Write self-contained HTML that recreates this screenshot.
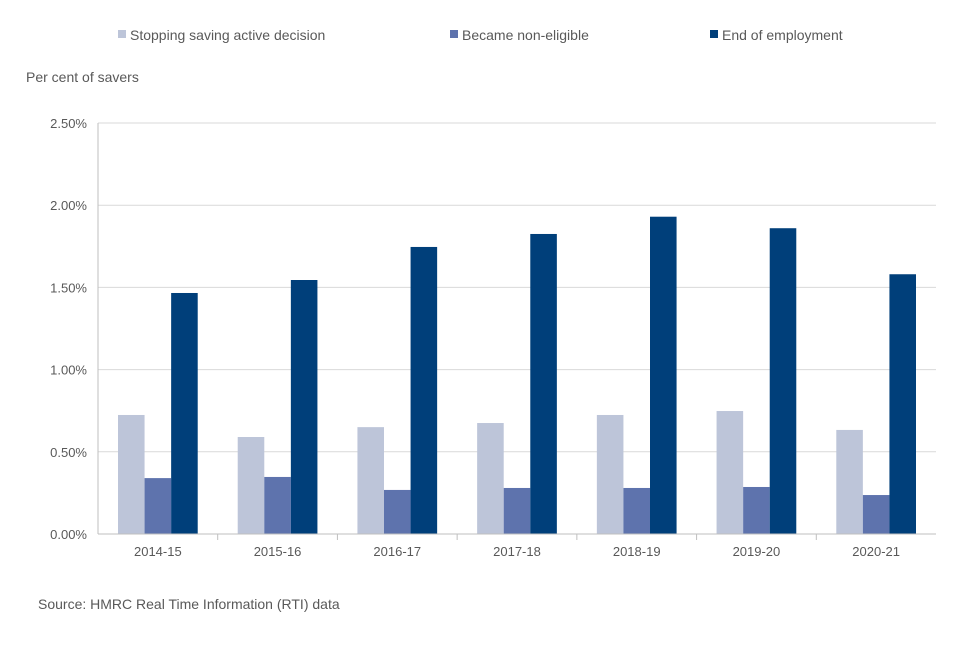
<!DOCTYPE html>
<html><head><meta charset="utf-8"><style>
body{margin:0;background:#fff;font-family:"Liberation Sans",Arial,sans-serif;}
svg text{font-family:"Liberation Sans",Arial,sans-serif;fill:#595959;}
</style></head><body>
<svg width="960" height="640" viewBox="0 0 960 640">
<g id="legend">
 <g><rect x="118" y="30" width="8" height="8" fill="#bdc5d9"/><text x="130" y="40" font-size="14">Stopping saving active decision</text></g>
 <g><rect x="450" y="30" width="8" height="8" fill="#5e73ad"/><text x="462" y="40" font-size="14">Became non-eligible</text></g>
 <g><rect x="710" y="30" width="8" height="8" fill="#003f7a"/><text x="722" y="40" font-size="14">End of employment</text></g>
</g>
<text x="26" y="82" font-size="14">Per cent of savers</text>
<g id="grid"></g><g id="bars"></g><g id="xlabels"></g>
<line x1="98" y1="534" x2="936" y2="534" stroke="#bfbfbf"/>
<line x1="98" y1="123" x2="98" y2="534" stroke="#bfbfbf"/>
<text x="38" y="609" font-size="14">Source: HMRC Real Time Information (RTI) data</text>
</svg>
<script>
const categories=["2014-15","2015-16","2016-17","2017-18","2018-19","2019-20","2020-21"];
const stoppingSaving=[0.724,0.59,0.65,0.675,0.724,0.748,0.633];
const nonEligible=[0.34,0.347,0.268,0.28,0.28,0.286,0.237];
const endEmployment=[1.466,1.545,1.746,1.825,1.93,1.86,1.58];
const yTicks=[0,0.5,1,1.5,2,2.5];
const yTickLabels=["0.00%","0.50%","1.00%","1.50%","2.00%","2.50%"];
const NS="http://www.w3.org/2000/svg";
const x0=98,x1=936,y0=534,y1=123,yMax=2.5;
const y=v=>y0-v/yMax*(y0-y1);
const cw=(x1-x0)/categories.length;
const grid=document.getElementById('grid');
yTicks.forEach((t,i)=>{
 const l=document.createElementNS(NS,'line');
 l.setAttribute('x1',x0);l.setAttribute('x2',x1);l.setAttribute('y1',y(t));l.setAttribute('y2',y(t));
 l.setAttribute('stroke','#d9d9d9');
 
 
 grid.appendChild(l);
 const tx=document.createElementNS(NS,'text');
 tx.setAttribute('x',87);tx.setAttribute('y',y(t)+5);tx.setAttribute('text-anchor','end');tx.setAttribute('font-size','13');
 tx.textContent=yTickLabels[i];
 
 
 grid.appendChild(tx);
});
const series=[[stoppingSaving,'#bdc5d9','stopping'],[nonEligible,'#5e73ad','non-eligible'],[endEmployment,'#003f7a','end-employment']];
const bars=document.getElementById('bars'),xl=document.getElementById('xlabels');
const bw=(cw-40)/3;
categories.forEach((c,i)=>{
 const gx=x0+i*cw+20;
 series.forEach(([arr,col,nm],s)=>{
  const r=document.createElementNS(NS,'rect');
  r.setAttribute('x',gx+s*bw);r.setAttribute('width',bw);
  r.setAttribute('y',y(arr[i]));r.setAttribute('height',y0-y(arr[i]));r.setAttribute('fill',col);
  
  
  bars.appendChild(r);
 });
 const t=document.createElementNS(NS,'text');
 t.setAttribute('x',x0+(i+0.5)*cw);t.setAttribute('y',556);t.setAttribute('text-anchor','middle');t.setAttribute('font-size','13');
 t.textContent=c;
 
 
 xl.appendChild(t);
 if(i>0){const k=document.createElementNS(NS,'line');
 k.setAttribute('x1',x0+i*cw);k.setAttribute('x2',x0+i*cw);k.setAttribute('y1',y0);k.setAttribute('y2',y0+6);k.setAttribute('stroke','#bfbfbf');
 
 
 xl.appendChild(k);}
});
</script>
</body></html>
